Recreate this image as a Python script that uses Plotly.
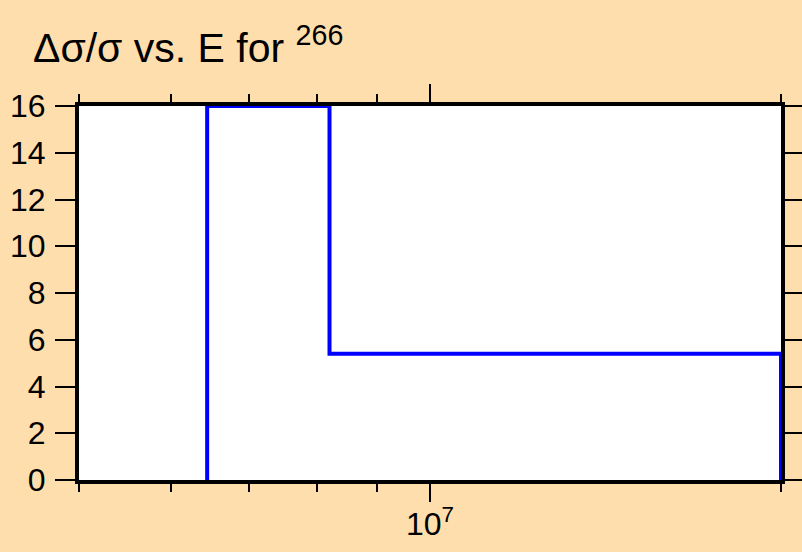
import plotly.graph_objects as go

# bin edges (energy) and delta sigma / sigma values per bin
edges = [6.44e6, 8.2e6, 2.0e7]
values = [16.0, 5.4]

y_ticks = [0, 2, 4, 6, 8, 10, 12, 14, 16]
x_major = [1e7]
x_major_text = ["10<sup>7</sup>"]
x_minor = [5e6, 6e6, 7e6, 8e6, 9e6, 2e7]

# histogram outline
xs, ys = [edges[0]], [0]
for i, v in enumerate(values):
    xs += [edges[i], edges[i + 1]]
    ys += [v, v]
xs.append(edges[-1])
ys.append(0)

bg = "#FFDEAD"
font = "Liberation Sans, Arial, sans-serif"

fig = go.Figure()
fig.add_trace(
    go.Scatter(x=xs, y=ys, mode="lines", line=dict(color="#0000FF", width=4),
               showlegend=False, cliponaxis=False)
)

fig.update_layout(
    width=802,
    height=552,
    paper_bgcolor=bg,
    plot_bgcolor="white",
    margin=dict(l=79, r=21, t=106, b=72, autoexpand=False),
    font=dict(family=font, size=32, color="black"),
    title=dict(
        text="Δσ/σ vs. E for <sup>266</sup>",
        x=33 / 802, xref="container", xanchor="left",
        y=1 - 48 / 552, yref="container", yanchor="middle",
        font=dict(family=font, size=41, color="black"),
    ),
    xaxis=dict(
        type="log",
        range=[6.69897, 7.30103],
        tickmode="array",
        tickvals=x_major,
        ticktext=x_major_text,
        ticks="outside",
        ticklen=18,
        tickwidth=2,
        tickcolor="black",
        ticklabelstandoff=-5,
        showline=True,
        linewidth=4,
        linecolor="black",
        mirror="allticks",
        showgrid=False,
        zeroline=False,
        automargin=False,
        minor=dict(tickmode="array", tickvals=x_minor, ticks="outside",
                   ticklen=8, tickwidth=2, tickcolor="black", showgrid=False),
    ),
    yaxis=dict(
        range=[0, 16],
        tickmode="array",
        tickvals=y_ticks,
        ticks="outside",
        ticklen=20,
        tickwidth=2,
        tickcolor="black",
        ticklabelstandoff=3,
        showline=True,
        linewidth=4,
        linecolor="black",
        mirror="allticks",
        showgrid=False,
        zeroline=False,
        automargin=False,
    ),
)

fig.write_html("out.html", config={"displayModeBar": False},
               post_script="document.body.style.margin='0px';")
